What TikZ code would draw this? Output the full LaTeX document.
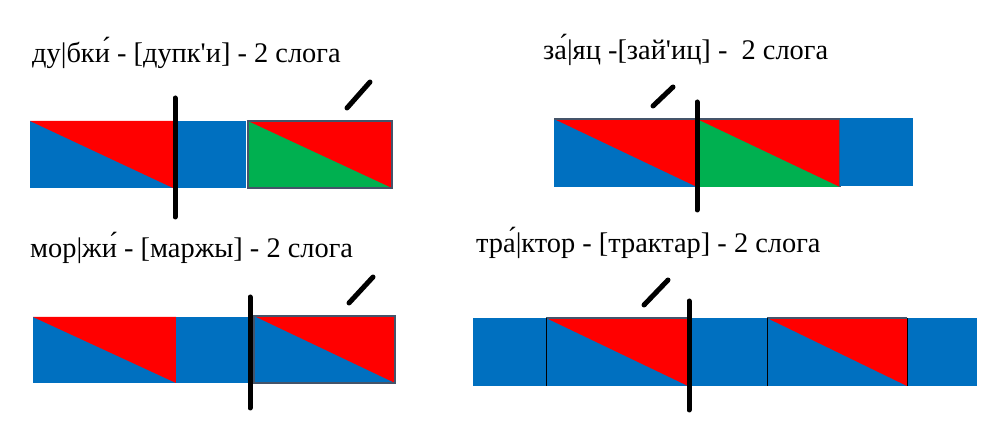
\documentclass[tikz,border=0pt]{standalone}
\usepackage{fontspec}
\setmainfont{Liberation Serif}
\usepackage{xcolor}
\usetikzlibrary{positioning, calc}

\definecolor{slogblue}{RGB}{0,112,192}
\definecolor{slogred}{RGB}{255,0,0}
\definecolor{sloggreen}{RGB}{0,176,80}
\definecolor{slogedge}{RGB}{68,84,106}

\tikzset{
  word/.style={anchor=base west, inner sep=0pt, font=\fontsize{28.5}{34}\selectfont},
  divline/.style={line width=5bp, line cap=round},
  stress/.style={line width=5bp, line cap=round},
  sep/.style={line width=1bp},
}

\begin{document}
\begin{tikzpicture}[x=1bp,y=-1bp]
      \useasboundingbox[fill=white] (0,0) rectangle (1000,448);

      % ду|бки
      \def\top{121}
      \def\bot{188}
      \fill[slogblue] (30,\top) rectangle (173,\bot);
      \fill[slogred] (30,\top) -- (173,\top) -- (173,\bot) -- cycle;
      \fill[slogblue] (173,\top) rectangle (246,\bot);
      \fill[sloggreen] (248,\top) rectangle (392,\bot);
      \fill[slogred] (248,\top) -- (392,\top) -- (392,\bot) -- cycle;
      \draw[slogedge,line width=1.5bp] (248,\top) rectangle (392,\bot);
      \draw[divline] (175,98) -- (175,217);
      \draw[stress] (347,108) -- (370,82);
      \node[word] (dubki) at (32,63) {ду|бки́ - [дупк\textquotesingle и] - 2 слога};

      % за|яц
      \def\top{119}
      \def\bot{187}
      \fill[slogblue] (554,\top) rectangle (697,\bot);
      \fill[slogred] (554,\top) -- (697,\top) -- (697,\bot) -- cycle;
      \fill[sloggreen] (697,\top) rectangle (840,\bot);
      \fill[slogred] (697,\top) -- (840,\top) -- (840,\bot) -- cycle;
      \draw[slogedge,line width=1.5bp] (554,\top) -- (840,\top) -- (840,\bot);
      \fill[slogblue] (840,118) rectangle (913,186);
      \draw[divline] (697,102) -- (697,210);
      \draw[stress] (653,106) -- (673,87);
      \node[word] (zayats) at (543,60) {за́|яц -[зай\textquotesingle иц] -\ \ 2 слога};

      % мор|жи
      \def\top{317}
      \def\bot{383}
      \fill[slogblue] (33,\top) rectangle (176,\bot);
      \fill[slogred] (33,\top) -- (176,\top) -- (176,\bot) -- cycle;
      \fill[slogblue] (176,\top) rectangle (250,\bot);
      \fill[slogblue] (254,316) rectangle (395,\bot);
      \fill[slogred] (254,316) -- (395,316) -- (395,\bot) -- cycle;
      \draw[slogedge,line width=1.5bp] (254,316) rectangle (395,\bot);
      \draw[divline] (250,297) -- (250,408);
      \draw[stress] (349,303) -- (373,277);
      \node[word] (morzhi) at (30,258) {мор|жи́ - [маржы] - 2 слога};

      % тра|ктор
      \def\top{318}
      \def\bot{386}
      \fill[slogblue] (473,\top) rectangle (977,\bot);
      \fill[slogred] (546,\top) -- (688,\top) -- (688,\bot) -- cycle;
      \fill[slogred] (767,\top) -- (907,\top) -- (907,\bot) -- cycle;
      \draw[slogedge,line width=1.5bp] (546,\top) -- (688,\top);
      \draw[slogedge,line width=1.5bp] (767,\top) -- (907,\top);
      \foreach \x in {546,767,907}
        \draw[sep] (\x,\top) -- (\x,\bot);
      \draw[divline] (689,301) -- (689,410);
      \draw[stress] (644,305) -- (668,280);
      \node[word] (traktor) at (476,253) {тра́|ктор - [трактар] - 2 слога};
\end{tikzpicture}
\end{document}
